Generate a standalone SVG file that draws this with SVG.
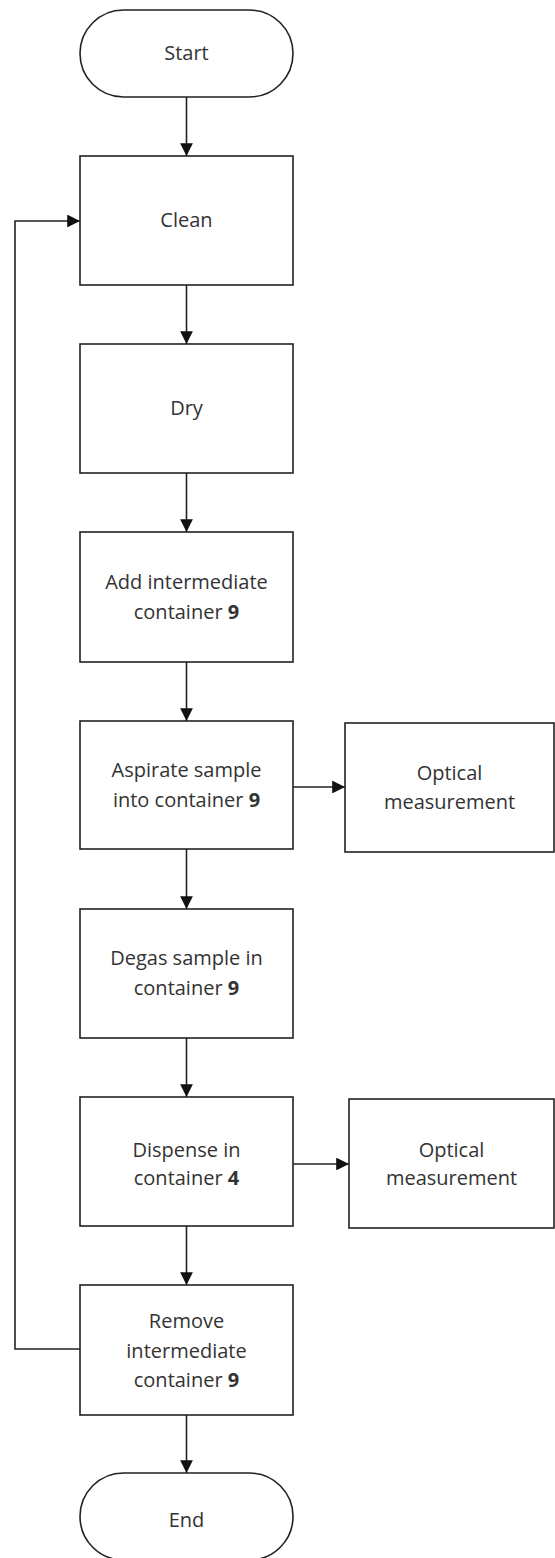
<svg xmlns="http://www.w3.org/2000/svg" width="555" height="1558" viewBox="0 0 555 1558">
<defs>
<style>
.box{fill:#fff;stroke:#222;stroke-width:1.6}
.t{font-family:"Open Sans","Liberation Sans",sans-serif;font-size:20px;fill:#333;text-anchor:middle}
.c{fill:none;stroke:#222;stroke-width:1.6}
</style>
<marker id="ah" viewBox="0 0 10 10" refX="10" refY="5" markerWidth="8" markerHeight="8" markerUnits="strokeWidth" orient="auto">
<path d="M0,0 L10,5 L0,10 Z" fill="#111"/>
</marker>
</defs>
<rect width="555" height="1558" fill="#fff"/>
<g id="connectors">
<line class="c" x1="186.5" y1="97" x2="186.5" y2="156" marker-end="url(#ah)"/>
<line class="c" x1="186.5" y1="285" x2="186.5" y2="344" marker-end="url(#ah)"/>
<line class="c" x1="186.5" y1="473" x2="186.5" y2="532" marker-end="url(#ah)"/>
<line class="c" x1="186.5" y1="662" x2="186.5" y2="721" marker-end="url(#ah)"/>
<line class="c" x1="186.5" y1="849" x2="186.5" y2="909" marker-end="url(#ah)"/>
<line class="c" x1="186.5" y1="1038" x2="186.5" y2="1097" marker-end="url(#ah)"/>
<line class="c" x1="186.5" y1="1226" x2="186.5" y2="1285" marker-end="url(#ah)"/>
<line class="c" x1="186.5" y1="1415" x2="186.5" y2="1473" marker-end="url(#ah)"/>
<line class="c" x1="293" y1="787" x2="345" y2="787" marker-end="url(#ah)"/>
<line class="c" x1="293" y1="1164" x2="349" y2="1164" marker-end="url(#ah)"/>
<polyline class="c" points="80,1349 15,1349 15,221 80,221" marker-end="url(#ah)"/>
</g>
<g id="start">
<rect class="box" x="80" y="10" width="213" height="87" rx="43.5"/>
<text class="t" x="186.5" y="60">Start</text>
</g>
<g id="clean">
<rect class="box" x="80" y="156" width="213" height="129"/>
<text class="t" x="186.5" y="227">Clean</text>
</g>
<g id="dry">
<rect class="box" x="80" y="344" width="213" height="129"/>
<text class="t" x="186.5" y="415">Dry</text>
</g>
<g id="add">
<rect class="box" x="80" y="532" width="213" height="130"/>
<text class="t" x="186.5" y="589">Add intermediate</text>
<text class="t" x="186.5" y="619">container <tspan font-weight="bold">9</tspan></text>
</g>
<g id="aspirate">
<rect class="box" x="80" y="721" width="213" height="128"/>
<text class="t" x="186.5" y="777">Aspirate sample</text>
<text class="t" x="186.5" y="807">into container <tspan font-weight="bold">9</tspan></text>
</g>
<g id="optical1">
<rect class="box" x="345" y="723" width="209" height="129"/>
<text class="t" x="449.5" y="780">Optical</text>
<text class="t" x="449.5" y="809">measurement</text>
</g>
<g id="degas">
<rect class="box" x="80" y="909" width="213" height="129"/>
<text class="t" x="186.5" y="965">Degas sample in</text>
<text class="t" x="186.5" y="995">container <tspan font-weight="bold">9</tspan></text>
</g>
<g id="dispense">
<rect class="box" x="80" y="1097" width="213" height="129"/>
<text class="t" x="186.5" y="1157">Dispense in</text>
<text class="t" x="186.5" y="1185">container <tspan font-weight="bold">4</tspan></text>
</g>
<g id="optical2">
<rect class="box" x="349" y="1099" width="205" height="129"/>
<text class="t" x="451.5" y="1157">Optical</text>
<text class="t" x="451.5" y="1185">measurement</text>
</g>
<g id="remove">
<rect class="box" x="80" y="1285" width="213" height="130"/>
<text class="t" x="186.5" y="1328">Remove</text>
<text class="t" x="186.5" y="1358">intermediate</text>
<text class="t" x="186.5" y="1387">container <tspan font-weight="bold">9</tspan></text>
</g>
<g id="end">
<rect class="box" x="80" y="1473" width="213" height="87" rx="43.5"/>
<text class="t" x="186.5" y="1527">End</text>
</g>
</svg>
